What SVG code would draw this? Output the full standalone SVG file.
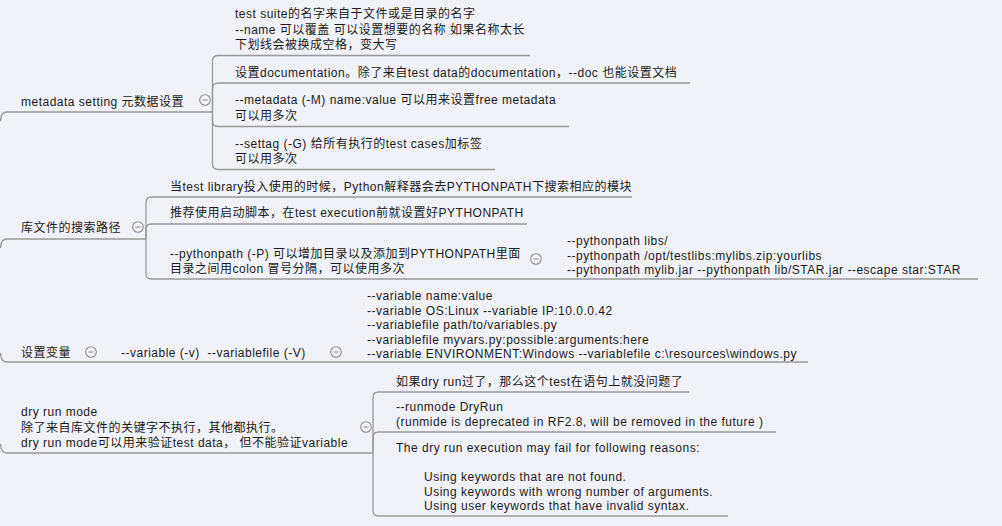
<svg xmlns="http://www.w3.org/2000/svg" width="1002" height="526" viewBox="0 0 1002 526">
<style>
  .bg { fill: #f1f2f7; }
  .ln { fill: none; stroke: #999999; stroke-width: 1.3; }
  text { font-family: "Liberation Sans", "Noto Sans CJK SC", sans-serif; font-size: 12px; letter-spacing: 0.5px; fill: #1a1a1a; }
  .btn circle { fill: #f4f5f9; stroke: #8e8e8e; stroke-width: 1.1; }
  .btn line { stroke: #8a8fb0; stroke-width: 1.1; }
</style>
<defs>
  <g id="collapse" class="btn">
    <circle cx="0" cy="0" r="5.3"/>
    <line x1="-2.6" y1="0" x2="2.6" y2="0"/>
  </g>
</defs>
<rect class="bg" x="0" y="0" width="1002" height="526"/>

<g id="connectors">
  <!-- topic stems from left edge -->
  <path class="ln" d="M0.6,121 Q0.6,112 7,112 L212,112"/>
  <path class="ln" d="M0.6,248 Q0.6,239 7,239 L146,239"/>
  <path class="ln" d="M0.6,353 Q0.6,362 7,362 L808,362"/>
  <path class="ln" d="M0.6,444 Q0.6,453 7,453 L373,453"/>
  <!-- metadata children -->
  <path class="ln" d="M212.5,112 L212.5,61 Q212.5,55.5 218,55.5 L530,55.5"/>
  <path class="ln" d="M212.5,112 L212.5,89 Q212.5,83 218,83 L690,83"/>
  <path class="ln" d="M212.5,112 L212.5,121 Q212.5,126.5 218,126.5 L569,126.5"/>
  <path class="ln" d="M212.5,112 L212.5,164 Q212.5,169.5 218,169.5 L495,169.5"/>
  <!-- search path children -->
  <path class="ln" d="M146,239 L146,202.5 Q146,197 151.5,197 L632,197"/>
  <path class="ln" d="M146,239 L146,229.5 Q146,224 151.5,224 L527,224"/>
  <path class="ln" d="M146,239 L146,273.5 Q146,279 151.5,279 L978,279"/>
  <!-- dry run children -->
  <path class="ln" d="M373,453 L373,397.5 Q373,392 378.5,392 L689,392"/>
  <path class="ln" d="M373,453 L373,437.5 Q373,432 378.5,432 L776,432"/>
  <path class="ln" d="M373,453 L373,510.5 Q373,516 378.5,516 L728,516"/>
</g>

<g id="node-metadata">
  <text x="21" y="106">metadata setting 元数据设置</text>
  <use href="#collapse" x="205" y="100"/>
</g>
<g id="node-suite-name">
  <text x="235" y="18">test suite的名字来自于文件或是目录的名字</text>
  <text x="235" y="33.5">--name 可以覆盖 可以设置想要的名称 如果名称太长</text>
  <text x="235" y="49">下划线会被换成空格，变大写</text>
</g>
<g id="node-doc">
  <text x="235" y="77">设置documentation。除了来自test data的documentation，--doc 也能设置文档</text>
</g>
<g id="node-meta-opt">
  <text x="235" y="104">--metadata (-M) name:value 可以用来设置free metadata</text>
  <text x="235" y="119.5">可以用多次</text>
</g>
<g id="node-settag">
  <text x="235" y="148">--settag (-G) 给所有执行的test cases加标签</text>
  <text x="235" y="163">可以用多次</text>
</g>

<g id="node-search-path">
  <text x="21" y="232">库文件的搜索路径</text>
  <use href="#collapse" x="138" y="227"/>
</g>
<g id="node-library">
  <text x="170" y="191">当test library投入使用的时候，Python解释器会去PYTHONPATH下搜索相应的模块</text>
</g>
<g id="node-startup">
  <text x="170" y="217">推荐使用启动脚本，在test execution前就设置好PYTHONPATH</text>
</g>
<g id="node-pythonpath">
  <text x="170" y="258">--pythonpath (-P) 可以增加目录以及添加到PYTHONPATH里面</text>
  <text x="170" y="273">目录之间用colon 冒号分隔，可以使用多次</text>
  <use href="#collapse" x="536" y="259"/>
</g>
<g id="node-pythonpath-examples">
  <text x="567" y="245">--pythonpath libs/</text>
  <text x="567" y="259.5">--pythonpath /opt/testlibs:mylibs.zip:yourlibs</text>
  <text x="567" y="274">--pythonpath mylib.jar --pythonpath lib/STAR.jar --escape star:STAR</text>
</g>

<g id="node-variables">
  <text x="21" y="357">设置变量</text>
  <use href="#collapse" x="91" y="352"/>
</g>
<g id="node-variable-opt">
  <text x="121" y="357" xml:space="preserve">--variable (-v)  --variablefile (-V)</text>
  <use href="#collapse" x="336" y="352"/>
</g>
<g id="node-variable-examples">
  <text x="367" y="300">--variable name:value</text>
  <text x="367" y="314.5">--variable OS:Linux --variable IP:10.0.0.42</text>
  <text x="367" y="329">--variablefile path/to/variables.py</text>
  <text x="367" y="343.5">--variablefile myvars.py:possible:arguments:here</text>
  <text x="367" y="358">--variable ENVIRONMENT:Windows --variablefile c:\resources\windows.py</text>
</g>

<g id="node-dryrun">
  <text x="21" y="416">dry run mode</text>
  <text x="21" y="431.5">除了来自库文件的关键字不执行，其他都执行。</text>
  <text x="21" y="447">dry run mode可以用来验证test data， 但不能验证variable</text>
  <use href="#collapse" x="366" y="427"/>
</g>
<g id="node-dryrun-ok">
  <text x="396" y="386">如果dry run过了，那么这个test在语句上就没问题了</text>
</g>
<g id="node-runmode">
  <text x="396" y="411">--runmode DryRun</text>
  <text x="396" y="426">(runmide is deprecated in RF2.8, will be removed in the future )</text>
</g>
<g id="node-fail-reasons">
  <text x="396" y="452">The dry run execution may fail for following reasons:</text>
  <text x="424" y="481">Using keywords that are not found.</text>
  <text x="424" y="495.5">Using keywords with wrong number of arguments.</text>
  <text x="424" y="510">Using user keywords that have invalid syntax.</text>
</g>
</svg>
